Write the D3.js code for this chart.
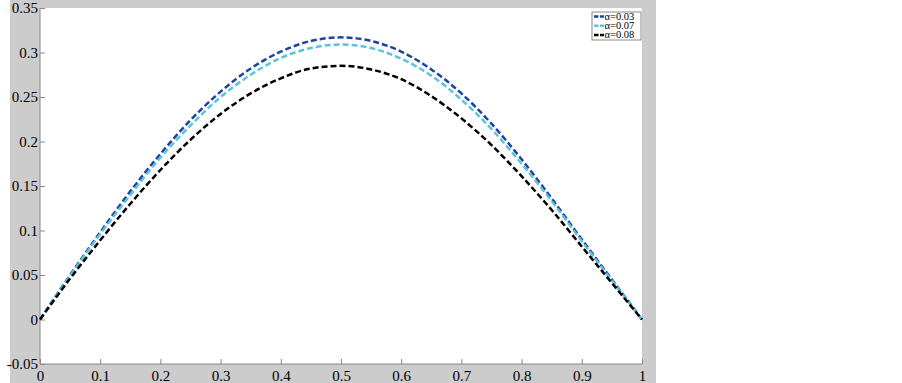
<html>
<head>
<meta charset="utf-8">
<script src="https://d3js.org/d3.v7.min.js"></script>
<style>
	body{ margin:0; background:#fff;}
	text{ font-family:"Liberation Serif","Times New Roman",serif; fill:#000;}
	.axis path, .axis line{ stroke:#888; }
</style>
</head>
<body>
<script>

var width = 902,
	height = 383;

// values
var xs    = [0,0.05,0.1,0.15,0.2,0.25,0.3,0.35,0.4,0.45,0.5,0.55,0.6,0.65,0.7,0.75,0.8,0.85,0.9,0.95,1];
var a003  = [0,0.050,0.098,0.144,0.186,0.224,0.256,0.282,0.301,0.313,0.317,0.313,0.301,0.281,0.254,0.220,0.180,0.136,0.090,0.045,0];
var a007  = [0,0.049,0.096,0.140,0.182,0.218,0.250,0.275,0.294,0.305,0.309,0.305,0.293,0.274,0.247,0.214,0.175,0.133,0.088,0.044,0];
var a008  = [0,0.046,0.089,0.130,0.168,0.202,0.231,0.254,0.271,0.282,0.285,0.281,0.270,0.251,0.226,0.196,0.161,0.123,0.082,0.041,0];
var legendLabels = ["α=0.03","α=0.07","α=0.08"];
var colors = ["#1c44a3","#5ec3d8","#000000"];
var xTicks = [0,0.1,0.2,0.3,0.4,0.5,0.6,0.7,0.8,0.9,1];
var yTicks = [-0.05,0,0.05,0.1,0.15,0.2,0.25,0.3,0.35];

var svg = d3.select("body").append("svg")
	.attr("width", width)
	.attr("height", height);

// grey figure background
svg.append("rect")
	.attr("x", 10).attr("y", 0)
	.attr("width", 646).attr("height", height)
	.attr("fill", "#cccccc");

var x = d3.scaleLinear().domain([0,1]).range([40,642]);
var y = d3.scaleLinear().domain([-0.05,0.35]).range([364,8]);

svg.append("rect")
	.attr("x", x(0)).attr("y", y(0.35))
	.attr("width", x(1)-x(0)).attr("height", y(-0.05)-y(0.35))
	.attr("fill", "#fff");

var fmt = function(d){ return String(d); };

var xAxis = svg.append("g")
	.attr("class", "axis")
	.attr("transform", "translate(0," + y(-0.05) + ")")
	.call(d3.axisBottom(x).tickValues(xTicks).tickSize(-5).tickPadding(4).tickFormat(fmt));
xAxis.selectAll("text").attr("font-size", 15).attr("dy", "0.85em")
	.style("font-family", "'Liberation Serif',serif");
xAxis.select(".domain").attr("d", "M" + x(0) + ",0H" + x(1));

var yAxis = svg.append("g")
	.attr("class", "axis")
	.attr("transform", "translate(" + x(0) + ",0)")
	.call(d3.axisLeft(y).tickValues(yTicks).tickSize(-5).tickPadding(2).tickFormat(fmt));
yAxis.selectAll("text").attr("font-size", 15)
	.style("font-family", "'Liberation Serif',serif");
yAxis.select(".domain").attr("d", "M0," + y(-0.05) + "V" + y(0.35));

var line = d3.line()
	.x(function(d){ return x(d[0]); })
	.y(function(d){ return y(d[1]); })
	.curve(d3.curveMonotoneX);

var series = [a003, a007, a008];
series.forEach(function(s, i){
	svg.append("path")
		.datum(xs.map(function(v, j){ return [v, s[j]]; }))
		.attr("d", line)
		.attr("fill", "none")
		.attr("stroke", colors[i])
		.attr("stroke-width", 2.5)
		.attr("stroke-dasharray", "6,3");
});

// legend
var legend = svg.append("g").attr("transform", "translate(592,12)");
legend.append("rect")
	.attr("width", 49).attr("height", 28)
	.attr("fill", "#fff").attr("stroke", "#888").attr("stroke-width", 1);
legendLabels.forEach(function(l, i){
	var yy = 4.5 + i * 9.2;
	legend.append("line")
		.attr("x1", 2).attr("x2", 12).attr("y1", yy).attr("y2", yy)
		.attr("stroke", colors[i]).attr("stroke-width", 2.5)
		.attr("stroke-dasharray", "4.5,1.5");
	legend.append("text")
		.attr("x", 12.5).attr("y", yy).attr("dy", "0.33em")
		.attr("font-size", 10.5)
		.text(l);
});

</script>
</body>
</html>
